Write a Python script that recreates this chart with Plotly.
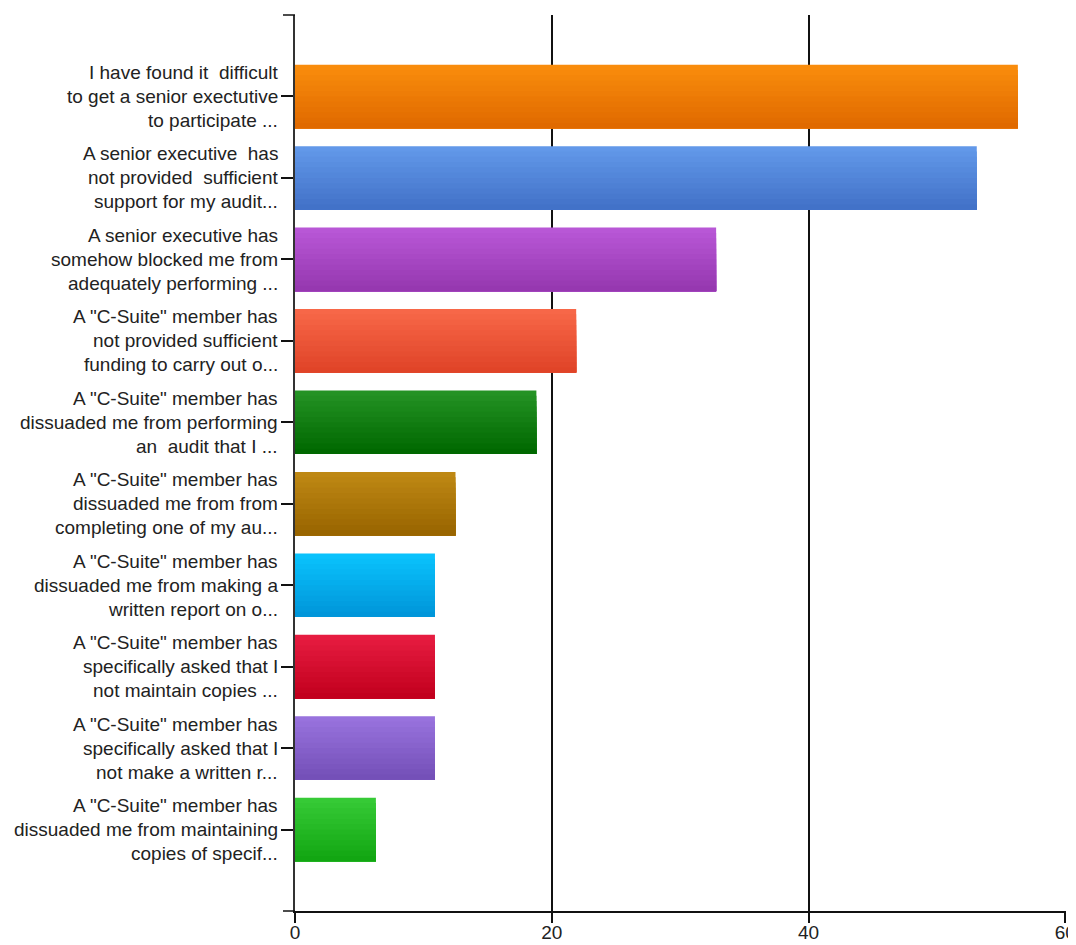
import plotly.graph_objects as go

# ---- data ----
labels = [
    "I have found it\u00a0 difficult<br>to get a senior exectutive<br>to participate ...",
    "A senior executive\u00a0 has<br>not provided\u00a0 sufficient<br>support for my audit...",
    "A senior executive has<br>somehow blocked me from<br>adequately performing ...",
    "A \"C-Suite\" member has<br>not provided sufficient<br>funding to carry out o...",
    "A \"C-Suite\" member has<br>dissuaded me from performing<br>an\u00a0 audit that I ...",
    "A \"C-Suite\" member has<br>dissuaded me from from<br>completing one of my au...",
    "A \"C-Suite\" member has<br>dissuaded me from making a<br>written report on o...",
    "A \"C-Suite\" member has<br>specifically asked that I<br>not maintain copies ...",
    "A \"C-Suite\" member has<br>specifically asked that I<br>not make a written r...",
    "A \"C-Suite\" member has<br>dissuaded me from maintaining<br>copies of specif...",
]
values = [56.3, 53.1, 32.8, 21.9, 18.8, 12.5, 10.9, 10.9, 10.9, 6.3]
x_ticks = [0, 20, 40, 60]

top_colors = ["#F98C0C", "#6298E9", "#B857D6", "#F76748", "#249224",
              "#BE8814", "#0AC2FC", "#E61C40", "#9872DD", "#36CA36"]
bottom_colors = ["#E06A00", "#4272C8", "#9638B0", "#E04428", "#006800",
                 "#996500", "#0096DA", "#C2001E", "#7450B8", "#12A612"]

# ---- figure ----
def hex2rgb(h):
    h = h.lstrip("#")
    return tuple(int(h[i:i + 2], 16) for i in (0, 2, 4))

def mix(c1, c2, t):
    a, b = hex2rgb(c1), hex2rgb(c2)
    return "rgb(%d,%d,%d)" % tuple(round(a[k] + (b[k] - a[k]) * t) for k in range(3))

FONT = "Liberation Sans, Arial, sans-serif"
TXT = "#222222"

positions = list(range(len(values)))
bar_w = 0.78
n_strips = 12
fig = go.Figure()
for s in range(n_strips):
    t = s / (n_strips - 1)
    h = bar_w / n_strips
    fig.add_trace(go.Bar(
        orientation="h",
        x=values,
        y=positions,
        width=bar_w - s * h,
        offset=-bar_w / 2 + s * h,
        marker=dict(color=[mix(top_colors[i], bottom_colors[i], t) for i in range(len(values))],
                    line=dict(width=0)),
        showlegend=False,
        hoverinfo="skip",
    ))

# page body has an 8px default margin, so the figure is offset by 8px
W, H = 1068, 937
L, T = 287, 7
R = W - 1058
B = H - 903
fig.update_layout(
    width=W, height=H,
    margin=dict(l=L, r=R, t=T, b=B, autoexpand=False),
    barmode="overlay",
    plot_bgcolor="white", paper_bgcolor="white",
    font=dict(family=FONT, size=19, color=TXT),
)
fig.update_yaxes(
    range=[10, -1],
    tickmode="array", tickvals=positions, ticktext=[""] * len(positions),
    showline=True, linecolor="#333333", linewidth=1.5,
    ticks="outside", ticklen=12, tickcolor="#111111", tickwidth=1.5,
    showgrid=False, zeroline=False, automargin=False,
)
fig.update_xaxes(
    range=[0, 60.05],
    tickmode="array", tickvals=x_ticks, ticktext=[str(v) for v in x_ticks],
    showline=True, linecolor="#111111", linewidth=1.5,
    ticks="outside", ticklen=10, tickcolor="#111111", tickwidth=1.5,
    showgrid=True, gridcolor="#111111", gridwidth=1.5,
    zeroline=False, tickfont=dict(size=19, family=FONT, color=TXT),
    automargin=False, ticklabeloverflow="allow", ticklabelstandoff=-7,
)

# category labels: three lines each, tight line spacing as in the original
LINE_GAP = 24
for pos, lab in zip(positions, labels):
    lines = lab.split("<br>")
    n = len(lines)
    for j, ln in enumerate(lines):
        fig.add_annotation(
            x=0, xref="paper", y=pos, yref="y",
            text=ln, showarrow=False,
            xanchor="right", yanchor="middle",
            xshift=-15, yshift=((n - 1) / 2 - j) * LINE_GAP,
            font=dict(family=FONT, size=19, color=TXT),
        )

# axis overshoot caps (top-left tick and left extension of x-axis line)
ext = 12 / (W - L - R)
fig.add_shape(type="line", xref="paper", yref="paper", x0=-ext, x1=0, y0=1, y1=1,
              line=dict(color="#111111", width=1.5))
fig.add_shape(type="line", xref="paper", yref="paper", x0=-ext, x1=0, y0=0, y1=0,
              line=dict(color="#111111", width=1.5))

fig.write_html("out.html")
